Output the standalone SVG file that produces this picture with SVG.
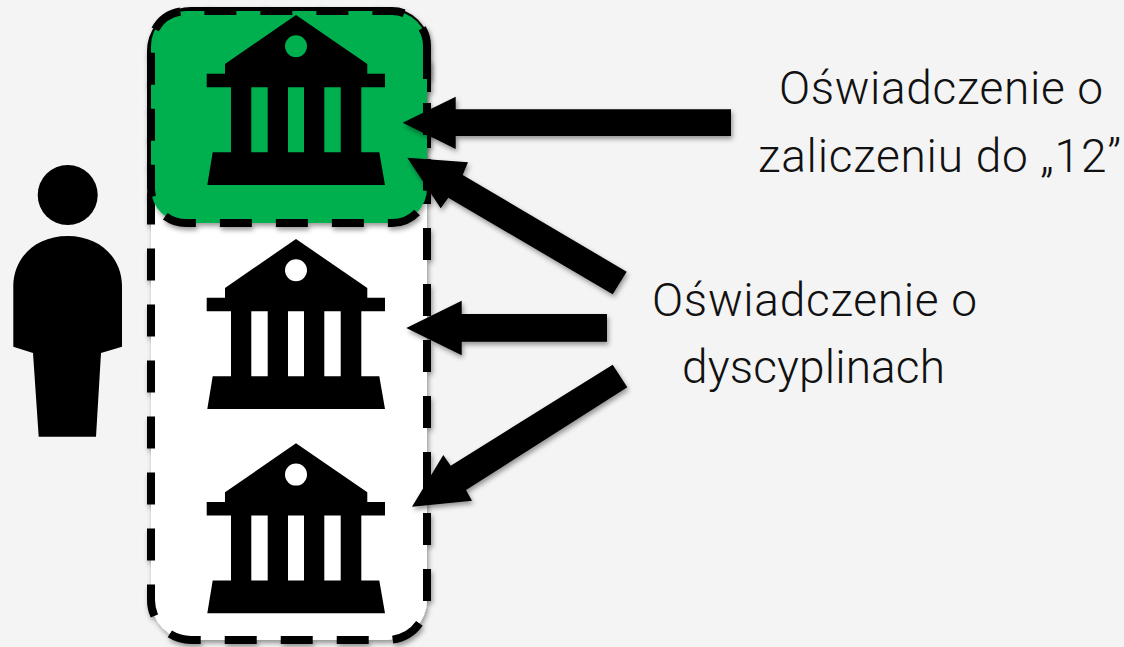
<svg xmlns="http://www.w3.org/2000/svg" width="1124" height="647" viewBox="0 0 1124 647">
<defs>
<filter id="sh" x="-10%" y="-10%" width="125%" height="125%"><feDropShadow dx="1.5" dy="3" stdDeviation="2.5" flood-color="#000" flood-opacity="0.4"/></filter>
<path id="bld" d="M296 15L367.3 64V73.7H385V87.3H361.3V152.3H379.3L385 185H207.3L212.7 152.3H231V87.3H206.7V73.7H225V64ZM251.3 87.3V152.3H267.7V87.3ZM288 87.3V152.3H304V87.3ZM324.3 87.3V152.3H340.7V87.3ZM307 46.3A11 11 0 1 0 285 46.3A11 11 0 1 0 307 46.3Z" fill-rule="evenodd"/>
</defs>
<style>
.dash{stroke:#000;stroke-width:8;stroke-dasharray:32 24}
.lbl{font-family:"Roboto","Liberation Sans",sans-serif;font-weight:300;font-size:46px;fill:#111}
.arr{fill:#000;filter:url(#sh)}
</style>
<rect width="1124" height="647" fill="#f4f4f4"/>
<g id="person"><circle cx="67.7" cy="195" r="30"/><path d="M67.7 236C35 236 14 258 13.3 285V346.7L33 353L38.7 436.7H96L101 353L122 346.7V285C121.5 258 100 236 67.7 236Z"/></g>
<g id="container"><path class="dash" fill="#fff" filter="url(#sh)" d="M427 457V600A40 40 0 0 1 387 640H191A40 40 0 0 1 151 600V51A40 40 0 0 1 191 11H387A40 40 0 0 1 427 51Z"/></g>
<g id="highlight"><path class="dash" fill="#00b050" filter="url(#sh)" d="M427 47V188A35 35 0 0 1 392 223H186A35 35 0 0 1 151 188V46A35 35 0 0 1 186 11H392A35 35 0 0 1 427 46Z"/></g>
<g id="building-1"><use href="#bld"/></g>
<g id="building-2"><use href="#bld" y="224"/></g>
<g id="building-3"><use href="#bld" y="428.3"/></g>
<g id="connectors">
<polygon class="arr" points="731,109.3 731,136 455.7,136 455.7,149 402.7,122.7 455.7,96.7 455.7,109.3"/>
<polygon class="arr" points="626.7,271.7 612.7,294.3 448.3,197.7 440.7,208.3 407.3,157.7 468,162.3 462.7,175"/>
<polygon class="arr" points="607,314 607,341.7 461.7,341.7 461.7,355.3 406.3,328 461.7,300.7 461.7,314"/>
<polygon class="arr" points="612.7,364.7 627.3,387.3 466,490 472,500.7 412,506.7 443.3,455 450.7,465.7"/>
</g>
<g id="label-1"><text class="lbl" x="779" y="103.5" textLength="324">Oświadczenie o</text><text class="lbl" x="758" y="171.7" textLength="363">zaliczeniu do „12”</text></g>
<g id="label-2"><text class="lbl" x="652" y="316" textLength="325">Oświadczenie o</text><text class="lbl" x="682" y="383" textLength="263">dyscyplinach</text></g>
</svg>
